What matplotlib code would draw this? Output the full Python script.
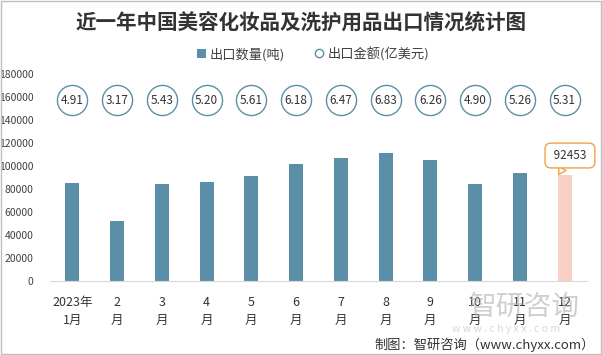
import matplotlib
matplotlib.use("Agg")
import matplotlib.pyplot as plt
from matplotlib.lines import Line2D
from matplotlib.patches import Patch, Rectangle

plt.rcParams['font.family'] = ['Noto Sans CJK SC', 'DejaVu Sans']

months = ['2023年\n1月', '2\n月', '3\n月', '4\n月', '5\n月', '6\n月',
          '7\n月', '8\n月', '9\n月', '10\n月', '11\n月', '12\n月']
export_qty = [85400, 52100, 84500, 86200, 91400, 101900,
              107200, 111500, 105400, 84500, 94100, 92453]
export_value = [4.91, 3.17, 5.43, 5.20, 5.61, 6.18, 6.47, 6.83, 6.26, 4.90, 5.26, 5.31]

bar_color = '#5b8fa8'
last_color = '#f8d0c6'
circle_color = '#5b8fa8'
callout_color = '#f0a04b'

fig = plt.figure(figsize=(6.02, 3.55), dpi=100)
ax = fig.add_axes([0.083, 0.209, 0.892, 0.583])

# watermark (drawn first, behind everything)
fig.text(0.871, 0.135, '智研咨询', ha='center', va='center', fontsize=20,
         color='#b0b0b0', alpha=0.6, zorder=0)
fig.text(0.84, 0.073, 'w w w . c h y x x . c o m', ha='center', va='center',
         fontsize=7.5, color='#c8c8c8', alpha=0.7, zorder=0)

x = list(range(len(months)))
colors = [bar_color] * (len(months) - 1) + [last_color]
ax.bar(x, export_qty, width=0.31, color=colors, zorder=2)

# circles with the export value written inside
circle_y = 157000
ax.scatter(x, [circle_y] * len(x), s=470, facecolor='white',
           edgecolor=circle_color, linewidth=1, zorder=3)
for xi, v in zip(x, export_value):
    ax.text(xi, circle_y, f'{v:.2f}', ha='center', va='center',
            fontsize=8.5, color='#333333', zorder=4)

# callout for the last bar
ax.annotate(f' {export_qty[-1]} ', xy=(x[-1] - 0.13, export_qty[-1]),
            xytext=(x[-1] + 0.12, export_qty[-1] + 16500),
            ha='center', va='center', fontsize=8.5, color='#333333',
            bbox=dict(boxstyle='round,pad=0.5', fc='white', ec=callout_color, lw=1),
            arrowprops=dict(arrowstyle='wedge,tail_width=0.7', fc='white',
                            ec=callout_color, lw=1, shrinkA=0, shrinkB=0),
            annotation_clip=False, zorder=5)

ax.set_xlim(-0.5, len(months) - 0.5)
ax.set_ylim(0, 180000)
ax.set_yticks(range(0, 180001, 20000))
ax.set_xticks(x)
ax.set_xticklabels(months, fontsize=9, color='#333333', linespacing=1.5)
ax.tick_params(axis='y', length=0, labelsize=7.5, labelcolor='#404040', pad=12)
ax.tick_params(axis='x', length=0, pad=11)
for s in ['top', 'right', 'left']:
    ax.spines[s].set_visible(False)
ax.spines['bottom'].set_color('#d9d9d9')

fig.text(0.5, 0.935, '近一年中国美容化妆品及洗护用品出口情况统计图',
         ha='center', va='center', fontsize=14.8, fontweight='bold', color='#333333')

handles = [Patch(facecolor=bar_color, edgecolor='none'),
           Line2D([], [], marker='o', linestyle='none', markerfacecolor='white',
                  markeredgecolor=circle_color, markersize=6)]
fig.legend(handles, ['出口数量(吨)', '出口金额(亿美元)'], loc='center',
           bbox_to_anchor=(0.52, 0.848), ncol=2, frameon=False, fontsize=9.5,
           handlelength=0.7, handleheight=0.7, handletextpad=0.3, columnspacing=2.2,
           labelcolor='#404040')

fig.text(0.988, 0.03, '制图：智研咨询（www.chyxx.com）', ha='right', va='center',
         fontsize=9.5, color='#333333')

fig.patches.append(Rectangle((0.001, 0.002), 0.997, 0.995, transform=fig.transFigure,
                             fill=False, edgecolor='#bfbfbf', lw=1))

fig.savefig('out.png', dpi=100)
